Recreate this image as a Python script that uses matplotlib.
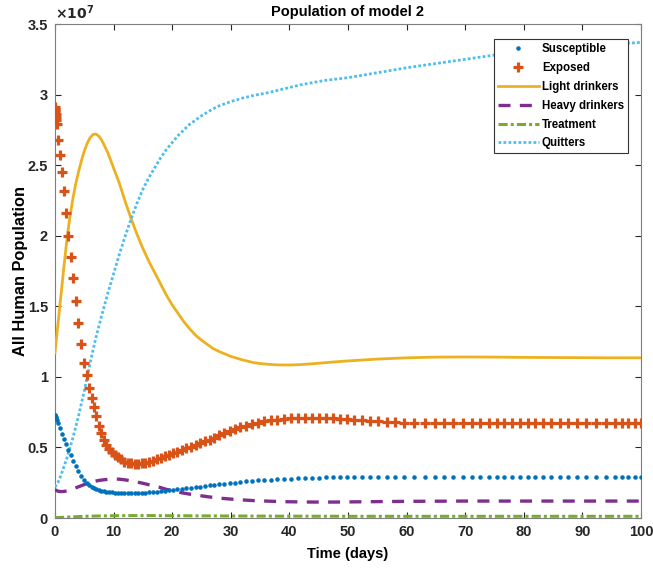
import numpy as np
import matplotlib.pyplot as plt

# values in units of 1e7 people
SCALE = 1e7

# solver time steps (markers for Susceptible / Exposed)
t_solver = [0.00, 0.02, 0.05, 0.08, 0.12, 0.17, 0.23, 0.30, 0.50, 0.85,
            1.20, 1.55, 1.90, 2.27, 2.70, 3.10, 3.55, 4.00, 4.50, 5.00,
            5.45, 5.85, 6.25, 6.65, 7.05, 7.45, 7.85, 8.30, 8.75, 9.20,
            9.70, 10.2, 10.7, 11.2, 11.8, 12.4, 13.0, 13.6, 14.2, 14.8,
            15.4, 16.0, 16.7, 17.4, 18.1, 18.8, 19.5, 20.2, 20.9, 21.6,
            22.4, 23.2, 24.0, 24.8, 25.6, 26.4, 27.2, 28.0, 28.9, 29.8,
            30.7, 31.6, 32.6, 33.6, 34.6, 35.7, 36.8, 37.9, 39.0, 40.2,
            41.4, 42.6, 43.8, 45.0, 46.2, 47.4, 48.6, 49.8, 51.1, 52.4,
            53.8, 55.2, 56.6, 58.1, 59.6, 61.3, 63.1, 64.8, 66.4, 68.0,
            69.6, 71.1, 72.6, 74.1, 75.4, 76.7, 78.0, 79.4, 80.7, 81.9,
            83.2, 84.6, 86.1, 87.5, 89.0, 90.6, 92.3, 94.0, 95.6, 96.7,
            97.8, 99.0, 100.0]

exposed = [2.91, 2.90, 2.89, 2.88, 2.86, 2.84, 2.82, 2.79, 2.68, 2.57,
           2.45, 2.32, 2.16, 2.00, 1.85, 1.70, 1.54, 1.38, 1.23, 1.10,
           1.01, 0.92, 0.85, 0.79, 0.72, 0.655, 0.60, 0.555, 0.52, 0.49,
           0.465, 0.445, 0.43, 0.415, 0.40, 0.393, 0.388, 0.385, 0.385, 0.387,
           0.392, 0.398, 0.407, 0.416, 0.426, 0.436, 0.447, 0.458, 0.469, 0.48,
           0.493, 0.505, 0.517, 0.53, 0.543, 0.556, 0.568, 0.585, 0.60, 0.615,
           0.629, 0.642, 0.654, 0.665, 0.675, 0.684, 0.691, 0.697, 0.702, 0.706,
           0.708, 0.709, 0.71, 0.71, 0.709, 0.707, 0.704, 0.70, 0.696, 0.692,
           0.688, 0.684, 0.681, 0.678, 0.676, 0.674, 0.673, 0.672, 0.671, 0.671,
           0.671, 0.671, 0.671, 0.672, 0.672, 0.672, 0.672, 0.672, 0.672, 0.672,
           0.672, 0.672, 0.672, 0.672, 0.672, 0.672, 0.672, 0.672, 0.672, 0.672,
           0.672, 0.672, 0.672]

susceptible = [0.730, 0.728, 0.725, 0.722, 0.718, 0.712, 0.705, 0.697, 0.675, 0.636,
               0.598, 0.560, 0.522, 0.485, 0.443, 0.405, 0.365, 0.330, 0.297, 0.268,
               0.248, 0.233, 0.221, 0.211, 0.203, 0.197, 0.192, 0.188, 0.185, 0.183,
               0.181, 0.179, 0.178, 0.177, 0.177, 0.176, 0.176, 0.177, 0.177, 0.178,
               0.180, 0.182, 0.184, 0.187, 0.190, 0.193, 0.196, 0.200, 0.203, 0.207,
               0.211, 0.215, 0.219, 0.223, 0.227, 0.231, 0.235, 0.239, 0.243, 0.247,
               0.251, 0.255, 0.259, 0.263, 0.266, 0.269, 0.272, 0.275, 0.277, 0.279,
               0.281, 0.283, 0.284, 0.286, 0.287, 0.288, 0.289, 0.290, 0.290, 0.291,
               0.291, 0.292, 0.292, 0.293, 0.293, 0.293, 0.293, 0.293, 0.293, 0.293,
               0.293, 0.293, 0.293, 0.293, 0.293, 0.293, 0.293, 0.293, 0.293, 0.293,
               0.293, 0.293, 0.293, 0.293, 0.293, 0.293, 0.293, 0.293, 0.293, 0.293,
               0.293, 0.293, 0.293]

# time grid for the line series
t_curve = [0, 0.5, 1, 1.5, 2, 2.5, 3, 3.5, 4, 4.5,
           5, 5.5, 6, 6.5, 7, 7.5, 8, 9, 10, 11,
           12, 13, 14, 15, 16, 17, 18, 19, 20, 21,
           22, 23, 24, 25, 26, 27, 28, 30, 32, 34,
           36, 38, 40, 42, 44, 46, 48, 50, 55, 60,
           65, 70, 75, 80, 85, 90, 95, 100]

light = [1.17, 1.37, 1.57, 1.77, 1.96, 2.12, 2.25, 2.36, 2.45, 2.53,
         2.60, 2.655, 2.695, 2.718, 2.72, 2.705, 2.675, 2.59, 2.48, 2.37,
         2.24, 2.12, 2.01, 1.91, 1.82, 1.74, 1.66, 1.58, 1.51, 1.45,
         1.39, 1.34, 1.295, 1.26, 1.23, 1.20, 1.18, 1.145, 1.12, 1.10,
         1.09, 1.085, 1.084, 1.087, 1.093, 1.10, 1.107, 1.113, 1.126, 1.135,
         1.14, 1.141, 1.14, 1.138, 1.137, 1.136, 1.135, 1.135]

heavy = [0.20, 0.19, 0.187, 0.188, 0.192, 0.198, 0.205, 0.213, 0.221, 0.229,
         0.237, 0.244, 0.251, 0.257, 0.262, 0.266, 0.269, 0.274, 0.276, 0.275,
         0.27, 0.263, 0.255, 0.246, 0.236, 0.226, 0.216, 0.203, 0.193, 0.184,
         0.176, 0.169, 0.162, 0.157, 0.151, 0.146, 0.141, 0.134, 0.128, 0.123,
         0.12, 0.117, 0.115, 0.114, 0.113, 0.113, 0.113, 0.114, 0.116, 0.118,
         0.119, 0.12, 0.12, 0.12, 0.12, 0.12, 0.12, 0.12]

treatment = [0.002, 0.003, 0.004, 0.005, 0.006, 0.007, 0.008, 0.009, 0.010, 0.011,
             0.012, 0.0125, 0.013, 0.0135, 0.014, 0.0145, 0.015, 0.0155, 0.016, 0.0165,
             0.017, 0.017, 0.017, 0.017, 0.017, 0.017, 0.0165, 0.0165, 0.016, 0.016,
             0.016, 0.0155, 0.0155, 0.015, 0.015, 0.015, 0.0145, 0.014, 0.014, 0.0135,
             0.0135, 0.013, 0.013, 0.013, 0.0125, 0.0125, 0.0125, 0.012, 0.012, 0.012,
             0.012, 0.012, 0.012, 0.012, 0.012, 0.012, 0.012, 0.012]

quitters = [0.22, 0.25, 0.30, 0.36, 0.42, 0.49, 0.56, 0.64, 0.72, 0.81,
            0.90, 1.00, 1.10, 1.19, 1.28, 1.36, 1.44, 1.59, 1.73, 1.87,
            2.00, 2.12, 2.23, 2.33, 2.41, 2.48, 2.55, 2.61, 2.66, 2.71,
            2.75, 2.79, 2.82, 2.85, 2.875, 2.90, 2.92, 2.95, 2.975, 2.995,
            3.01, 3.03, 3.05, 3.07, 3.085, 3.10, 3.11, 3.12, 3.155, 3.19,
            3.22, 3.25, 3.28, 3.30, 3.32, 3.34, 3.355, 3.37]

x_ticks = [0, 10, 20, 30, 40, 50, 60, 70, 80, 90, 100]
y_ticks = [0, 0.5, 1, 1.5, 2, 2.5, 3, 3.5]
y_tick_labels = ['0', '0.5', '1', '1.5', '2', '2.5', '3', '3.5']

plt.rcParams['font.family'] = ['Liberation Sans', 'DejaVu Sans']
plt.rcParams['font.weight'] = 'bold'

fig = plt.figure(figsize=(6.53, 5.72), dpi=100)
ax = fig.add_axes([0.0842, 0.0944, 0.8974, 0.8636])

def sc(v):
    return np.asarray(v) * SCALE

ax.plot(t_solver, sc(susceptible), linestyle='none', marker='.', markersize=4.5,
        color='#0072BD', label='Susceptible', zorder=4)
ax.plot(t_solver, sc(exposed), linestyle='none', marker='+', markersize=7.5,
        markeredgewidth=2.3, color='#D95319', label='Exposed', zorder=5)
ax.plot(t_curve, sc(light), '-', lw=2.0, color='#EDB120', label='Light drinkers', zorder=3)
ax.plot(t_curve, sc(heavy), lw=2.4, color='#7E2F8E', dashes=(3.6, 2.8),
        label='Heavy drinkers', zorder=3)
ax.plot(t_curve, sc(treatment), lw=2.2, color='#77AC30', dashes=(3.0, 1.0, 1.0, 1.0),
        label='Treatment', zorder=3)
ax.plot(t_curve, sc(quitters), lw=2.0, color='#4DBEEE', dashes=(1.0, 0.8),
        label='Quitters', zorder=3)

ax.set_xlim(0, 100)
ax.set_ylim(0, 3.5 * SCALE)
ax.set_xticks(x_ticks)
ax.set_yticks(sc(y_ticks))
ax.set_yticklabels(y_tick_labels)
ax.tick_params(direction='in', length=4, width=0.8, top=True, right=True,
               labelsize=10.5, colors='#262626', pad=5)
for tl in ax.get_xticklabels() + ax.get_yticklabels():
    tl.set_fontweight('bold')
for s in ax.spines.values():
    s.set_color('#7f7f7f')
    s.set_linewidth(0.8)

ax.text(0.0, 1.004, r'$\times\mathbf{10^{7}}$', transform=ax.transAxes,
        ha='left', va='bottom', fontsize=10, color='#262626')

ax.set_title('Population of model 2', fontsize=10.5, fontweight='bold', pad=6)
ax.set_xlabel('Time (days)', fontsize=10.5, fontweight='bold', labelpad=6)
ax.set_ylabel('All Human Population', fontsize=11.8, fontweight='bold', labelpad=-0.5)

leg = ax.legend(loc='upper right', bbox_to_anchor=(0.978, 0.970),
                prop={'weight': 'bold', 'size': 8.3}, frameon=True, fancybox=False,
                edgecolor='#333333', framealpha=1, numpoints=1, handlelength=3.6,
                handletextpad=0.25, borderpad=0.35, labelspacing=0.6, borderaxespad=0)
leg.get_frame().set_linewidth(0.8)

fig.savefig('out.png', dpi=100)
